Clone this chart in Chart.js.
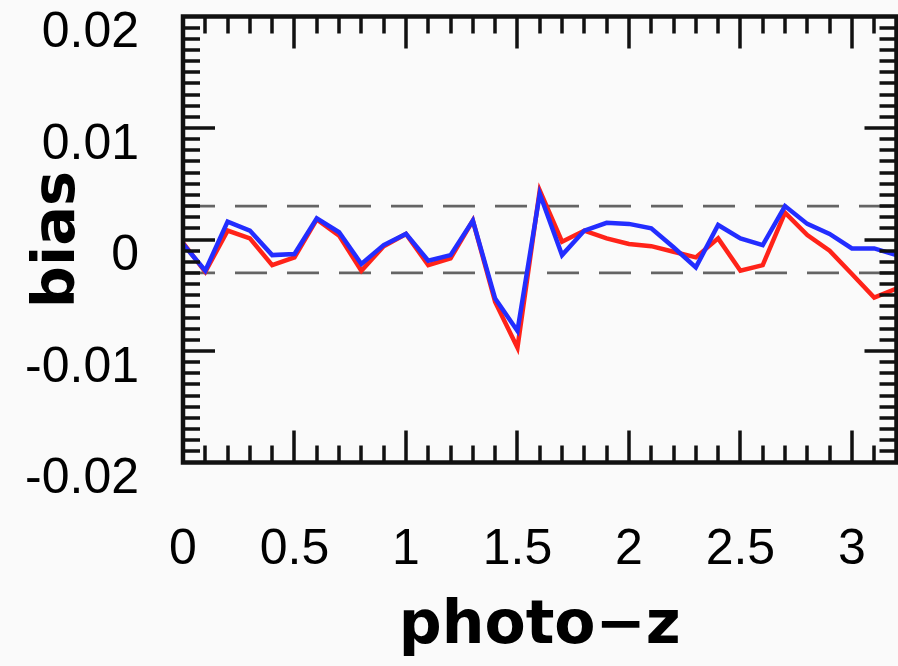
<!DOCTYPE html>
<html><head><meta charset="utf-8">
<script src="https://cdn.jsdelivr.net/npm/chart.js@4.4.1/dist/chart.umd.min.js"></script>
<style>html,body{margin:0;padding:0;background:#fafafa;overflow:hidden;}</style>
</head><body>
<canvas id="c" width="898" height="666"></canvas>
<script>
// ---- data ----
const photoZ = [0.0,0.1,0.2,0.3,0.4,0.5,0.6,0.7,0.8,0.9,1.0,1.1,1.2,1.3,1.4,1.5,1.6,1.7,1.8,1.9,2.0,2.1,2.2,2.3,2.4,2.5,2.6,2.7,2.8,2.9,3.0,3.1,3.2];
const biasBlue = [-0.0004,-0.0028,0.0016,0.0008,-0.0014,-0.0013,0.0019,0.00065,-0.0022,-0.0005,0.0005,-0.0019,-0.0014,0.0017,-0.0053,-0.0082,0.0041,-0.0014,0.0008,0.0015,0.0014,0.0010,-0.0007,-0.0025,0.0013,0.0001,-0.0005,0.0030,0.0014,0.0005,-0.0008,-0.0008,-0.0014];
const biasRed  = [-0.0003,-0.0029,0.0008,0.0001,-0.0023,-0.0016,0.0018,0.00035,-0.0028,-0.0006,0.0005,-0.0023,-0.0017,0.0017,-0.0056,-0.0097,0.0044,-0.0002,0.0008,0.0001,-0.0004,-0.0006,-0.0011,-0.0016,0.0001,-0.0028,-0.0023,0.0024,0.0004,-0.0010,-0.0031,-0.0052,-0.0044];
const dashLevels = [0.003, -0.003];
const xRange = [0, 3.2];
const yRange = [-0.02, 0.02];
const xMajorStep = 0.5, xMinorStep = 0.1;
const yMajorStep = 0.01, yMinorStep = 0.001;

const pts = (ys) => photoZ.map((x, i) => ({x: x, y: ys[i]}));
const flat = (v) => [{x: xRange[0], y: v}, {x: xRange[1], y: v}];
const noPad = (s) => { s.paddingLeft = 0; s.paddingRight = 0; s.paddingTop = 0; s.paddingBottom = 0; };

const frame = {
  id: 'frame',
  beforeDraw(chart) {
    const c = chart.ctx;
    c.save(); c.fillStyle = '#fafafa'; c.fillRect(0, 0, chart.width, chart.height); c.restore();
  },
  afterDatasetsDraw(chart) {
    const c = chart.ctx, a = chart.chartArea, xs = chart.scales.x, ys = chart.scales.y;
    c.save();
    c.strokeStyle = '#111';
    c.lineWidth = 3.5;
    const nx = Math.round((xRange[1] - xRange[0]) / xMinorStep);
    for (let i = 1; i < nx; i++) {
      const v = xRange[0] + i * xMinorStep;
      const major = Math.abs(v / xMajorStep - Math.round(v / xMajorStep)) < 1e-6;
      const len = major ? 32 : 17;
      const px = Math.round(xs.getPixelForValue(v));
      c.beginPath();
      c.moveTo(px, a.bottom); c.lineTo(px, a.bottom - len);
      c.moveTo(px, a.top); c.lineTo(px, a.top + len);
      c.stroke();
    }
    const ny = Math.round((yRange[1] - yRange[0]) / yMinorStep);
    for (let i = 1; i < ny; i++) {
      const v = yRange[0] + i * yMinorStep;
      const major = Math.abs(v / yMajorStep - Math.round(v / yMajorStep)) < 1e-6;
      const len = major ? 32 : 17;
      const py = Math.round(ys.getPixelForValue(v));
      c.beginPath();
      c.moveTo(a.left, py); c.lineTo(a.left + len, py);
      c.moveTo(a.right, py); c.lineTo(a.right - len, py);
      c.stroke();
    }
    c.lineWidth = 4.5;
    c.strokeRect(a.left, a.top, a.right - a.left, a.bottom - a.top);
    c.restore();
  }
};

new Chart(document.getElementById('c'), {
  type: 'line',
  data: {
    datasets: [
      {label: 'blue', data: pts(biasBlue), borderColor: 'rgb(35,45,255)', borderWidth: 4.5, pointRadius: 0, tension: 0},
      {label: 'red', data: pts(biasRed), borderColor: 'rgb(255,35,25)', borderWidth: 4.5, pointRadius: 0, tension: 0},
      {label: 'upper', data: flat(dashLevels[0]), borderColor: 'rgb(100,100,100)', borderWidth: 2.8, borderDash: [32, 20], pointRadius: 0},
      {label: 'lower', data: flat(dashLevels[1]), borderColor: 'rgb(100,100,100)', borderWidth: 2.8, borderDash: [32, 20], pointRadius: 0}
    ]
  },
  options: {
    responsive: false, animation: false, devicePixelRatio: 1,
    layout: {padding: {left: 0, top: 16.5, right: 1.5, bottom: 0}},
    plugins: {legend: {display: false}, tooltip: {enabled: false}},
    scales: {
      x: {
        type: 'linear', min: xRange[0], max: xRange[1],
        grid: {display: false, drawTicks: false}, border: {display: false},
        ticks: {stepSize: xMajorStep, includeBounds: false, autoSkip: false, maxRotation: 0, padding: 58,
          color: '#000', font: {family: "'Liberation Sans', Arial, sans-serif", size: 50},
          callback: (v) => String(Number(v.toFixed(2)))},
        title: {display: true, text: 'photo\u2212z', color: '#000', padding: {top: 0, bottom: 3},
          font: {family: "'DejaVu Sans', sans-serif", size: 60, weight: 'bold'}},
        afterFit: (s) => { s.height = 666 - 462.5; noPad(s); }
      },
      y: {
        type: 'linear', min: yRange[0], max: yRange[1],
        grid: {display: false, drawTicks: false}, border: {display: false},
        ticks: {stepSize: yMajorStep, includeBounds: false, autoSkip: false, padding: 44, labelOffset: 17,
          color: '#000', font: {family: "'Liberation Sans', Arial, sans-serif", size: 50},
          callback: (v) => String(Number(v.toFixed(3)))},
        title: {display: true, text: 'bias', color: '#000', padding: {top: 23, bottom: 0},
          font: {family: "'DejaVu Sans', sans-serif", size: 59, weight: 'bold'}},
        afterFit: (s) => { s.width = 183; noPad(s); }
      }
    }
  },
  plugins: [frame]
});
</script>
</body></html>
